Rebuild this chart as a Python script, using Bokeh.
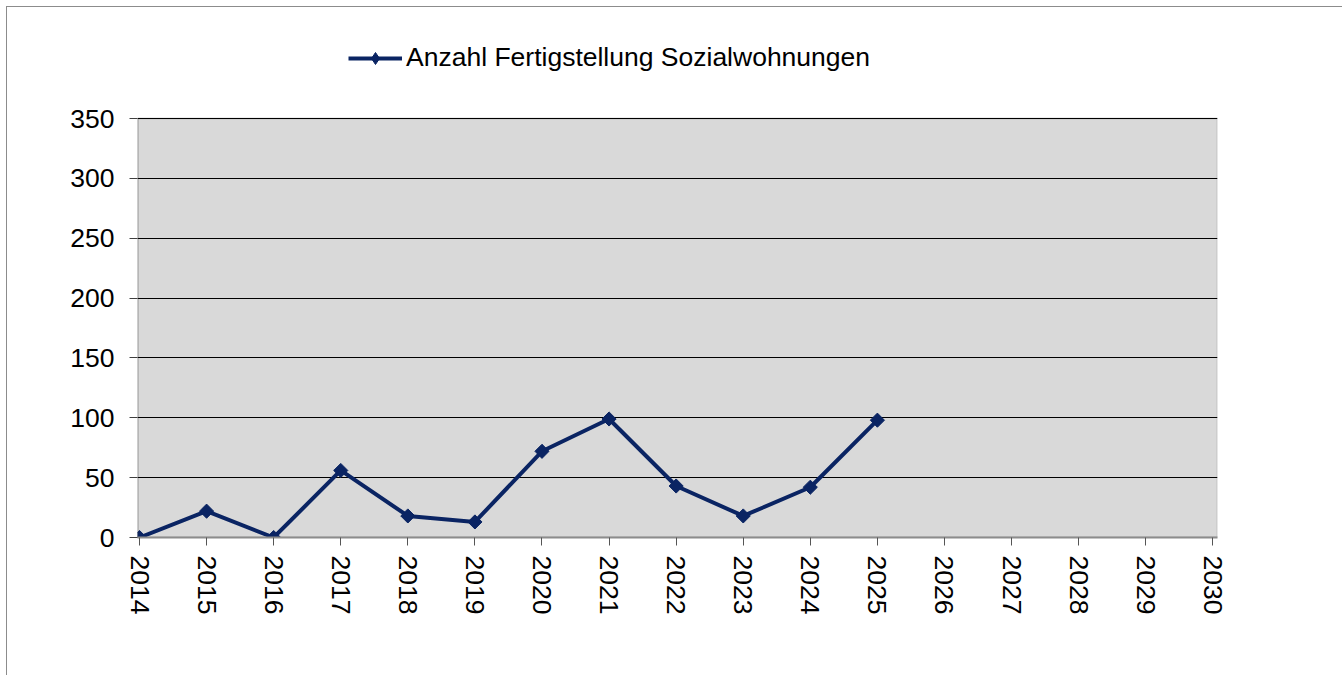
import math
from bokeh.plotting import figure
from bokeh.models import Legend, LegendItem, FixedTicker, Range1d, BoxAnnotation
from bokeh.embed import file_html
from bokeh.resources import INLINE

years = [2014, 2015, 2016, 2017, 2018, 2019, 2020, 2021, 2022, 2023, 2024, 2025]
values = [0, 22, 0, 56, 18, 13, 72, 99, 43, 18, 42, 98]
x_ticks = list(range(2014, 2031))
y_ticks = [0, 50, 100, 150, 200, 250, 300, 350]
series_name = "Anzahl Fertigstellung Sozialwohnungen"

NAVY = "#0a2463"
FONT = "Liberation Sans"
FS = "26.5px"

# frame extends above the plot area to host the legend; the grey plot area is 0..350
y_max = y_ticks[-1]
x_rng = Range1d(2013.97, 2030.07)
p = figure(width=1336, height=669, output_backend="svg", toolbar_location=None,
           x_range=x_rng, y_range=Range1d(0, y_max * 507 / 419),
           min_border_left=130, min_border_right=126, min_border_top=23, min_border_bottom=139)
p.styles = {"border-left": "1px solid #8c8c8c", "border-top": "1px solid #8c8c8c",
            "margin-left": "6px", "margin-top": "6px"}

p.background_fill_color = "white"
p.border_fill_color = "white"
p.outline_line_color = None

area = BoxAnnotation(bottom=0, top=y_max, fill_color="#d9d9d9", fill_alpha=1,
                     line_color="#8c8c8c", line_width=2, level="image")
p.add_layout(area)
# dark value-axis line along the left edge of the plot area
axis_edge = BoxAnnotation(bottom=0, top=y_max, right=x_rng.start, fill_alpha=0,
                          line_color="#404040", line_width=2, level="guide")
p.add_layout(axis_edge)

p.xgrid.grid_line_color = None
p.ygrid.grid_line_color = "black"
p.ygrid.grid_line_width = 1

p.xaxis.ticker = FixedTicker(ticks=x_ticks)
p.yaxis.ticker = FixedTicker(ticks=y_ticks)
p.xaxis.minor_tick_line_color = None
p.yaxis.minor_tick_line_color = None
for ax in (p.xaxis, p.yaxis):
    ax.major_tick_in = 0
    ax.major_tick_out = 8
    ax.major_label_text_font = FONT
    ax.major_label_text_font_size = FS
    ax.major_label_text_color = "black"
p.yaxis.axis_line_color = None
p.yaxis.major_tick_line_color = "#404040"
p.yaxis.major_label_standoff = 15
p.xaxis.axis_line_color = "#8c8c8c"
p.xaxis.axis_line_width = 2
p.xaxis.major_tick_line_color = "#555555"
p.xaxis.major_label_orientation = "vertical"
p.xaxis.major_label_standoff = 10

line = p.line(years, values, line_color=NAVY, line_width=4)
pts = p.scatter(years, values, marker="square", angle=math.pi / 4, size=10,
                fill_color=NAVY, line_color=NAVY)
# same series, used only for the legend swatch (a diamond, as in the legend)
swatch = p.scatter(years, values, marker="diamond", size=20,
                   fill_color=NAVY, line_color=NAVY, visible=False)

legend = Legend(items=[LegendItem(label=series_name, renderers=[line, swatch])],
                location=(211, 464), padding=0, margin=0, spacing=0,
                glyph_width=54, glyph_height=30, label_height=30, label_standoff=4,
                label_text_font=FONT, label_text_font_size=FS, label_text_color="black",
                border_line_alpha=0, background_fill_alpha=0)
p.add_layout(legend, "center")

open("out.html", "w").write(file_html(p, INLINE))
